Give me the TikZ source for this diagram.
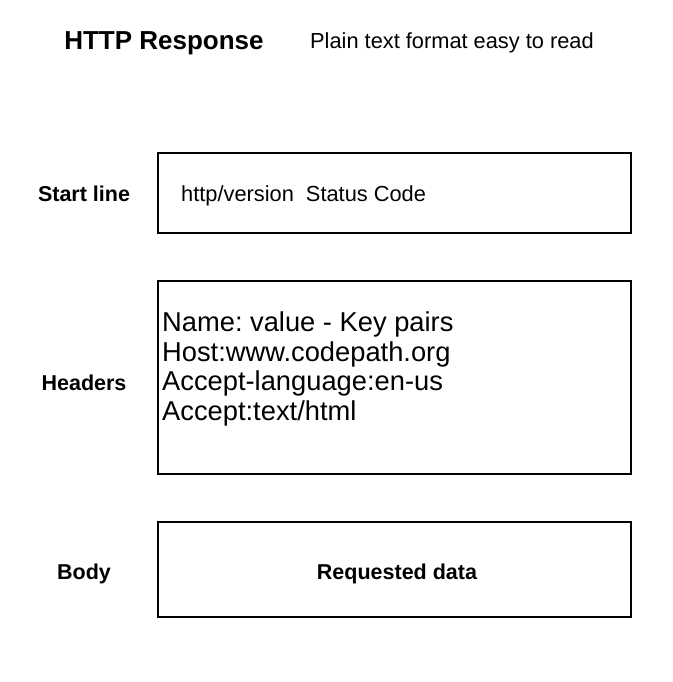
\documentclass[tikz,border=0pt]{standalone}
\usepackage{fontspec}
\setmainfont{Liberation Sans}
\usetikzlibrary{positioning}
\frenchspacing

\begin{document}
\begin{tikzpicture}[x=1pt, y=-1pt]
                \tikzstyle{section} = [draw, line width=1.2pt, minimum width=473pt, inner sep=0pt]
                \tikzstyle{label} = [font=\fontsize{21.5}{24}\selectfont\bfseries]
                \tikzstyle{content} = [font=\fontsize{21.8}{24}\selectfont, inner sep=0pt]

                \useasboundingbox (0,0) rectangle (672,682);

                % title line
                \node[font=\fontsize{26}{29}\selectfont\bfseries] (title) at (164,43) {HTTP Response};
                \node[content, anchor=west] (subtitle) at (310,43) {Plain text format easy to read};

                % the three parts
                \node[section, minimum height=80pt] (start) at (394.5,193) {};
                \node[section, minimum height=193pt] (headers) at (394.5,377.5) {};
                \node[section, minimum height=95pt] (body) at (394.5,569.5) {};

                \node[label] (startlbl) at (84,194) {Start line};
                \node[label] (headerslbl) at (84,383) {Headers};
                \node[label] (bodylbl) at (84,574) {Body};

                \node[content, anchor=west] (starttxt) at (181,196) {http/version\ \ Status Code};
                \node[content, anchor=west, align=left, font=\fontsize{27.3}{29.7}\selectfont] (headertxt) at (162,369)
                    {Name: value - Key pairs\\Host:www.codepath.org\\Accept-language:en-us\\Accept:text/html};
                \node[label] (bodytxt) at (397,574) {Requested data};
            \end{tikzpicture}
\end{document}
